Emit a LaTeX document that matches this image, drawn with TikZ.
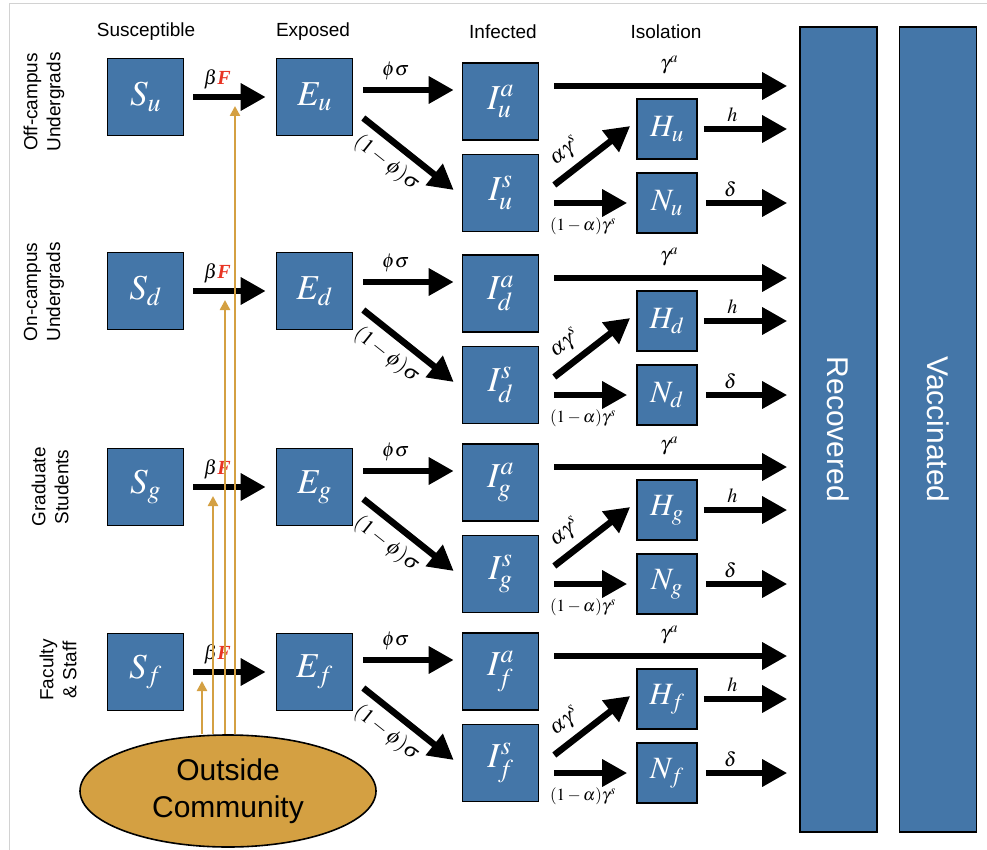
\documentclass[tikz,border=0pt]{standalone}
\usepackage{mathptmx}
\usepackage{fontspec}
\setmainfont{Liberation Serif}
\setsansfont{Liberation Sans}
\usepackage{graphicx}
\usetikzlibrary{arrows.meta,shapes.geometric}

\definecolor{boxblue}{RGB}{68,118,168}
\definecolor{gold}{RGB}{212,160,66}
\definecolor{Fred}{RGB}{232,52,36}

\tikzset{
  comp/.style={draw, line width=1.6pt, fill=boxblue, text=white, inner sep=0pt,
    minimum width=76pt, minimum height=77pt, font=\fontsize{35}{35}\selectfont},
  iso/.style={comp, minimum width=60pt, minimum height=60pt, font=\fontsize{31}{31}\selectfont},
  bar/.style={draw, line width=1.6pt, fill=boxblue, text=white, inner sep=0pt,
    minimum width=77pt, minimum height=805pt, font=\sffamily\fontsize{30}{30}\selectfont},
  flow/.style={line width=6.5pt, -{Triangle[length=25pt,width=26pt]}},
  feed/.style={draw=gold, line width=2.4pt, -{Triangle[length=10pt,width=10pt]}},
  rate/.style={font=\fontsize{20}{20}\selectfont},
  slrate/.style={font=\fontsize{21}{21}\selectfont, inner sep=1pt},
  srate/.style={font=\fontsize{17}{17}\selectfont},
  head/.style={font=\sffamily\fontsize{19}{19}\selectfont},
  group/.style={font=\sffamily\fontsize{19}{23}\selectfont, rotate=90, align=center}
}

\begin{document}
\begin{tikzpicture}[x=1pt, y=-1pt]
  \useasboundingbox (0,0) rectangle (987,850);
  % frame
  \draw[gray!35, line width=1pt] (9,850) -- (9,4) -- (987,4);

  % column headers
  \node[head] (hS) at (146,32) {Susceptible};
  \node[head] (hE) at (313,32) {Exposed};
  \node[head] (hI) at (503,32) {Infected};
  \node[head] (hH) at (666,32) {Isolation};

  % group labels
  \node[group] (gu) at (44,102) {Off-campus\\Undergrads};
  \node[group] (gd) at (44,292) {On-campus\\Undergrads};
  \node[group] (gg) at (50,487) {Graduate\\Students};
  \node[group] (gf) at (58,670) {Faculty\\\& Staff};

  % recovered and vaccinated
  \node[bar] (rec) at (838.5,429.5) {\rotatebox{-90}{Recovered}};
  \node[bar] (vac) at (938,429.5) {\rotatebox{-90}{Vaccinated}};

  % outside community
  \node[ellipse, draw, line width=1.6pt, fill=gold, minimum width=296pt, minimum height=112pt,
    inner sep=0pt, align=center, font=\sffamily\fontsize{30}{37}\selectfont] (outside) at (228,791)
    {Outside\\Community};

  \foreach \r/\sy/\iy/\fx in {u/97/63/235, d/291/255/225, g/487/444/213, f/672/633/202}{
    % compartments
    \node[comp] (S\r) at (145.5,\sy) {$S_\r$};
    \node[comp] (E\r) at (314.5,\sy) {$E_\r$};
    \node[comp] (Ia\r) at (500.5,\iy+38.5) {$I^a_\r$};
    \node[comp] (Is\r) at (500.5,\iy+130) {$I^s_\r$};
    \node[iso] (H\r) at (667,\iy+66) {$H_\r$};
    \node[iso] (N\r) at (667,\iy+140) {$N_\r$};
    \coordinate (ps\r) at ([yshift=11.5pt]Ia\r.west);
    \coordinate (ga\r) at ([yshift=15.5pt]Ia\r.east);
    \coordinate (in\r) at (\fx,\sy+9);

    % flows
    \draw[flow, shorten <=9pt, shorten >=10pt] (S\r) -- (E\r)
      node[rate, pos=.36, above=1pt] {$\beta$\textcolor{Fred}{\bfseries\itshape F}};
    \draw[flow, shorten <=10pt, shorten >=8pt] (E\r.east |- ps\r) -- (ps\r)
      node[rate, pos=.39, above=3pt] {$\phi\sigma$};
    \draw[flow] ([xshift=10pt,yshift={\sy-\iy-55}]E\r.east) -- ([xshift=-8pt,yshift=3pt]Is\r.west)
      node[slrate, sloped, pos=.4, below=6pt] {$(1-\phi)\sigma$};
    \draw[flow, shorten <=15pt, shorten >=12pt] (ga\r) -- (rec.west |- ga\r)
      node[rate, midway, above=5pt] {$\gamma^a$};
    \draw[flow] ([xshift=15pt,yshift=8pt]Is\r.east) -- ([xshift=-6pt,yshift=3pt]H\r.west)
      node[slrate, sloped, pos=.3, above=6pt] {$\alpha\gamma^s$};
    \draw[flow, shorten <=15pt, shorten >=9pt] (Is\r.east |- N\r) -- (N\r)
      node[srate, pos=.45, below=8pt] {$(1-\alpha)\gamma^s$};
    \draw[flow, shorten <=6pt, shorten >=12pt] (H\r) -- (rec.west |- H\r)
      node[rate, pos=.34, above=1pt] {$h$};
    \draw[flow, shorten <=8pt, shorten >=12pt] (N\r) -- (rec.west |- N\r)
      node[rate, pos=.32, above=0pt] {$\delta$};
  }

  % outside infection pressure
  \foreach \r in {u,d,g,f}
    \draw[feed] (outside.north -| in\r) -- (in\r);
\end{tikzpicture}
\end{document}
